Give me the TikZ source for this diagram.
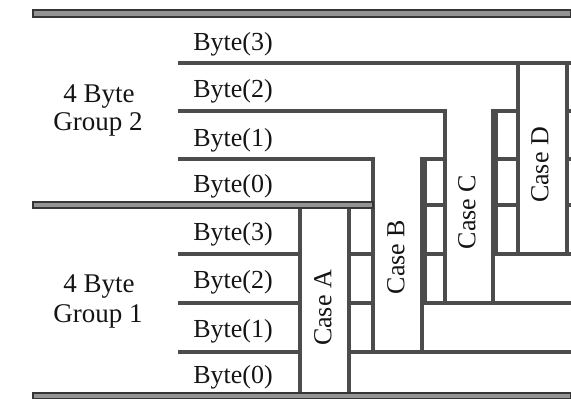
\documentclass[tikz,border=0pt]{standalone}
\usepackage{fontspec}
\setmainfont{Liberation Serif}
\definecolor{ln}{gray}{0.30}
\definecolor{barfill}{gray}{0.58}
\definecolor{txt}{gray}{0.08}
\begin{document}
\begin{tikzpicture}[x=1pt,y=-1pt,
  rule/.style={draw=ln,line width=3.1pt,line cap=rect},
  barline/.style={draw=ln!70!black,fill=barfill,line width=1.4pt},
  lab/.style={text=txt,font=\fontsize{26}{28}\selectfont,inner sep=0pt},
  grp/.style={text=txt,font=\fontsize{27}{29}\selectfont,inner sep=0pt},
  caselab/.style={lab,rotate=90,anchor=center}]
\useasboundingbox (0,0) rectangle (571,399);
% horizontal row lines
\draw[rule] (180,63) -- (571,63);
\draw[rule] (180,111) -- (445,111) (496,111) -- (518,111) (567,111) -- (571,111);
\draw[rule] (180,159) -- (373,159) (425,159) -- (445,159) (496,159) -- (518,159) (567,159) -- (571,159);
\draw[rule] (425,205) -- (445,205) (496,205) -- (518,205) (567,205) -- (571,205);
\draw[rule] (180,254) -- (300,254) (349,254) -- (373,254) (425,254) -- (445,254) (493,254) -- (571,254);
\draw[rule] (180,303) -- (300,303) (349,303) -- (373,303) (422,303) -- (571,303);
\draw[rule] (180,352) -- (300,352) (349,352) -- (571,352);
% case boxes and gap cells (verticals)
\draw[rule] (300,205) -- (300,396) (349,205) -- (349,396);
\draw[rule] (373,159) -- (373,352) (422,159) -- (422,352) (425,159) -- (425,303);
\draw[rule] (445,111) -- (445,303) (493,111) -- (493,303) (496,111) -- (496,254);
\draw[rule] (518,63) -- (518,254) (567,63) -- (567,254);
% thick bars
\draw[barline] (33,10) rectangle (571,17);
\draw[barline] (33,202) rectangle (373,208);
\draw[barline] (33,393) rectangle (571,399);
% byte labels
\node[lab,anchor=base] (g2b3) at (233,50) {Byte(3)};
\node[lab,anchor=base] (g2b2) at (233,97) {Byte(2)};
\node[lab,anchor=base] (g2b1) at (233,146) {Byte(1)};
\node[lab,anchor=base] (g2b0) at (233,192) {Byte(0)};
\node[lab,anchor=base] (g1b3) at (233,240) {Byte(3)};
\node[lab,anchor=base] (g1b2) at (233,288) {Byte(2)};
\node[lab,anchor=base] (g1b1) at (233,337) {Byte(1)};
\node[lab,anchor=base] (g1b0) at (233,383) {Byte(0)};
% group labels
\node[grp,anchor=base] (g2a) at (99,102) {4 Byte};
\node[grp,anchor=base] (g2g) at (98,130) {Group 2};
\node[grp,anchor=base] (g1a) at (99,292) {4 Byte};
\node[grp,anchor=base] (g1g) at (98,322) {Group 1};
% case labels
\node[caselab] (caseA) at (323,308) {Case A};
\node[caselab] (caseB) at (396,257) {Case B};
\node[caselab] (caseC) at (467,212) {Case C};
\node[caselab] (caseD) at (540,165) {Case D};
\end{tikzpicture}
\end{document}
